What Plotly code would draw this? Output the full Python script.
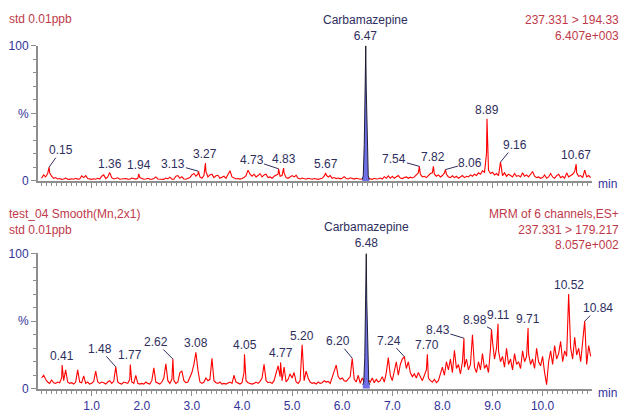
import numpy as np
import plotly.graph_objects as go

W, H = 623, 419

# ---------------------------------------------------------------------------
# Chromatogram data: relative intensity (%) on a 0.04 min scan grid
# ---------------------------------------------------------------------------
scan_times = np.round(np.arange(275) * 0.04, 2)

# 237.331 > 194.33 transition (one row per minute)
top_signal = [
    2.0, 4.5, 3.0, 5.5, 6.0, 3.5, 2.0, 2.5, 1.5, 1.8, 1.2, 1.5, 2.2, 1.4, 1.2, 1.6, 1.3, 2.0, 1.4, 1.5, 3.8, 2.5, 4.0, 1.8, 1.3,
    1.2, 1.6, 1.3, 2.0, 1.4, 3.5, 4.5, 1.8, 3.0, 5.0, 2.5, 1.5, 1.8, 2.4, 1.3, 1.5, 1.2, 1.8, 1.4, 1.3, 2.2, 1.5, 1.4, 2.0, 2.5,
    1.6, 1.3, 1.5, 2.0, 1.4, 1.3, 1.8, 3.0, 1.5, 1.3, 1.6, 1.2, 2.2, 1.5, 2.8, 1.4, 1.3, 3.5, 4.0, 2.0, 3.2, 1.5, 1.3, 1.8, 2.5,
    4.5, 5.5, 3.5, 5.0, 3.0, 2.0, 4.0, 7.0, 3.0, 4.5, 5.0, 2.5, 3.8, 4.2, 2.0, 2.5, 3.5, 2.0, 5.0, 7.6, 3.0, 2.0, 1.5, 1.8, 1.4,
    1.8, 2.5, 4.0, 8.0, 5.0, 3.5, 5.0, 3.0, 4.0, 5.5, 3.0, 4.5, 5.0, 2.5, 3.0, 2.0, 3.5, 4.0, 5.0, 3.5, 4.0, 6.0, 2.5, 2.0, 3.0,
    4.0, 3.0, 4.2, 2.0, 1.5, 2.2, 1.6, 1.3, 2.0, 1.5, 1.3, 1.8, 1.4, 1.2, 1.6, 2.0, 3.5, 4.5, 3.0, 4.0, 2.0, 2.5, 1.8, 2.2, 1.6,
    2.0, 3.2, 1.8, 1.5, 2.4, 1.6, 1.4, 2.0, 1.5, 1.3, 1.6, 2.5, 3.0, 2.0, 1.5, 1.2, 2.0, 1.5, 1.6, 2.2, 1.4, 3.2, 2.0, 3.8, 2.0,
    3.5, 2.0, 3.0, 4.0, 2.2, 1.8, 2.5, 3.0, 2.0, 2.8, 2.2, 3.0, 4.5, 6.0, 5.0, 3.0, 3.5, 2.5, 4.0, 5.5, 6.0, 5.0, 3.5, 4.5, 3.0,
    4.0, 6.0, 5.0, 3.0, 2.5, 3.8, 2.5, 3.5, 2.0, 3.0, 4.0, 2.5, 3.5, 3.0, 4.5, 3.5, 5.0, 4.0, 6.0, 5.0, 7.5, 6.5, 20.0, 8.0, 5.5,
    6.5, 4.5, 5.5, 4.0, 9.0, 4.0, 6.0, 3.5, 5.0, 4.0, 3.0, 5.5, 3.5, 4.0, 3.0, 6.0, 3.5, 4.5, 3.0, 5.0, 7.0, 3.5, 2.5, 3.0, 2.0,
    2.5, 4.5, 2.0, 3.0, 5.5, 3.0, 2.0, 4.0, 5.0, 2.5, 3.5, 2.0, 6.0, 3.0, 4.0, 5.0, 7.0, 6.0, 3.5, 4.0, 2.5, 8.0, 3.0, 4.0, 2.5,
]
top_peak_rt = [0.15, 1.36, 1.94, 3.13, 3.27, 4.73, 4.83, 5.67, 7.54, 7.82, 8.06, 8.89, 9.16, 10.67]
top_peak_h = [10.2, 6.2, 5.2, 7.2, 13.2, 9.0, 9.5, 6.0, 10.8, 10.8, 8.4, 46.0, 14.0, 12.4]

# test_04 smoothed, 237.331 > 179.217 transition
bottom_signal = [
    8.0, 10.0, 7.0, 5.0, 4.0, 6.5, 4.5, 4.0, 5.0, 4.5, 8.0, 6.0, 14.0, 5.0, 4.0, 4.5, 3.5, 5.0, 14.0, 5.0, 4.5, 9.5, 4.0, 5.0, 3.5,
    4.0, 5.5, 13.0, 5.0, 4.0, 5.0, 4.5, 3.5, 5.0, 6.0, 4.0, 5.5, 8.0, 5.0, 4.0, 3.5, 5.0, 4.5, 4.0, 7.0, 5.0, 4.0, 10.0, 4.0, 3.5,
    4.0, 3.5, 5.0, 4.0, 3.5, 6.0, 15.5, 5.0, 4.0, 3.5, 5.0, 8.0, 18.5, 6.0, 4.0, 7.0, 6.0, 4.0, 5.0, 12.0, 13.0, 6.0, 4.5, 5.0, 9.0,
    12.0, 18.0, 20.0, 14.0, 5.0, 4.0, 5.0, 8.0, 6.0, 7.0, 22.5, 6.0, 4.5, 4.0, 5.0, 3.5, 4.0, 3.5, 4.5, 5.0, 4.0, 10.0, 5.0, 4.0, 3.5,
    4.5, 12.0, 6.0, 4.5, 4.0, 3.5, 4.0, 5.0, 4.0, 5.5, 8.0, 18.0, 6.0, 4.5, 5.0, 4.0, 6.0, 11.0, 17.0, 9.0, 6.0, 16.0, 5.0, 7.0, 11.0,
    8.0, 12.0, 5.0, 4.0, 6.0, 14.0, 6.0, 13.0, 8.0, 5.0, 4.0, 4.5, 3.5, 5.0, 4.0, 4.5, 6.0, 5.0, 5.5, 4.0, 8.0, 12.0, 17.5, 9.0, 7.0,
    8.0, 6.0, 5.5, 7.0, 9.0, 12.0, 7.0, 5.0, 10.0, 4.0, 8.0, 5.0, 4.0, 6.5, 5.0, 8.0, 4.5, 7.0, 5.0, 6.0, 9.0, 5.0, 12.0, 23.0, 10.0,
    6.0, 14.0, 20.0, 10.0, 18.0, 22.0, 16.0, 15.0, 20.0, 12.0, 9.0, 11.0, 8.0, 12.0, 9.0, 6.0, 10.0, 14.0, 8.0, 6.0, 5.0, 7.0, 4.5, 6.0, 12.0,
    16.0, 10.0, 20.0, 14.0, 22.0, 12.0, 28.5, 15.0, 18.0, 11.0, 20.0, 16.0, 22.0, 14.0, 18.0, 40.0, 16.0, 12.0, 20.0, 14.0, 26.0, 15.0, 18.0, 12.0, 30.0,
    35.0, 22.0, 30.0, 28.0, 20.0, 24.0, 16.0, 30.0, 18.0, 22.0, 14.0, 26.0, 18.0, 20.0, 15.0, 28.0, 20.0, 24.0, 26.0, 18.0, 22.0, 15.0, 30.0, 20.0, 17.0,
    24.0, 12.0, 3.0, 20.0, 28.0, 18.0, 32.0, 22.0, 26.0, 35.0, 20.0, 28.0, 24.0, 30.0, 30.0, 22.0, 38.0, 25.0, 30.0, 20.0, 33.0, 28.0, 18.0, 32.0, 24.0,
]
bottom_peak_rt = [0.41, 1.48, 1.77, 2.62, 3.08, 4.05, 4.77, 5.20, 6.20, 7.24, 7.70, 8.43, 8.98, 9.11, 9.71, 10.52, 10.84]
bottom_peak_h = [17.5, 16.2, 18.0, 22.0, 27.0, 25.5, 19.5, 32.6, 22.6, 23.8, 25.5, 37.4, 44.0, 48.0, 45.0, 70.0, 50.0]

# Integrated Carbamazepine peak in each channel
cbz_top_rt = [6.40, 6.42, 6.44, 6.46, 6.47, 6.48, 6.50, 6.52, 6.54]
cbz_top_h = [1.0, 4.0, 27.0, 70.0, 100.0, 68.0, 26.0, 4.0, 1.0]
cbz_bottom_rt = [6.41, 6.43, 6.45, 6.47, 6.48, 6.49, 6.51, 6.53, 6.55]
cbz_bottom_h = [3.0, 5.0, 23.0, 68.0, 100.0, 66.0, 22.0, 5.0, 3.0]

x_tick_vals = [1, 2, 3, 4, 5, 6, 7, 8, 9, 10]
y_tick_vals = [0, 50, 100]
y_tick_text = ["0", "%", "100"]

# label displacement (pixels) for peak labels drawn with a leader line
top_leaders = {0.15: (12, -17), 3.13: (-25, -7), 4.73: (-27, -9), 7.54: (-25, -7),
               8.06: (25, -7), 9.16: (14, -17)}
bottom_leaders = {1.48: (-16, -18), 2.62: (-17, -17), 6.20: (-14, -17), 7.24: (-15, -16),
                  8.43: (-26, -8), 8.98: (-17, -9), 10.84: (13, -13)}

FONT = "Liberation Sans, Arial, sans-serif"
RED_TXT = "#c0394a"
NAVY = "#2e2e5e"
TICK_BLUE = "#333399"
AXIS_GREY = "#8e8e8e"
TRACE_RED = "#ff0000"
PEAK_BLUE = "#7070e6"


def merge(times, values, rts, heights):
    pts = {round(float(t), 2): v for t, v in zip(times, values)}
    for rt, h in zip(rts, heights):
        pts[round(rt, 2)] = h
    xs = sorted(pts)
    return xs, [pts[x] for x in xs]


def px_x(x):
    return x / W


def px_y(y):
    return 1 - y / H


fig = go.Figure()

tx, ty = merge(scan_times, top_signal, top_peak_rt, top_peak_h)
bx, by = merge(scan_times, bottom_signal, bottom_peak_rt, bottom_peak_h)

fig.add_trace(go.Scatter(x=tx, y=ty, mode="lines", line=dict(color=TRACE_RED, width=1.1),
                         xaxis="x", yaxis="y", hoverinfo="skip"))
fig.add_trace(go.Scatter(x=cbz_top_rt, y=cbz_top_h, mode="lines", fill="tozeroy",
                         fillcolor=PEAK_BLUE, line=dict(color="#111122", width=0.9),
                         xaxis="x", yaxis="y", hoverinfo="skip"))
fig.add_trace(go.Scatter(x=bx, y=by, mode="lines", line=dict(color=TRACE_RED, width=1.1),
                         xaxis="x2", yaxis="y2", hoverinfo="skip"))
fig.add_trace(go.Scatter(x=cbz_bottom_rt, y=cbz_bottom_h, mode="lines", fill="tozeroy",
                         fillcolor=PEAK_BLUE, line=dict(color="#111122", width=0.9),
                         xaxis="x2", yaxis="y2", hoverinfo="skip"))

x_dom = [px_x(38), px_x(592)]
x_rng = [-0.072, 10.986]

common_x = dict(domain=x_dom, range=x_rng, showline=True, linecolor=AXIS_GREY, linewidth=2,
                ticks="outside", ticklen=5, tickcolor=AXIS_GREY, tickwidth=1,
                tickvals=x_tick_vals, showgrid=False, zeroline=False,
                minor=dict(dtick=0.1, tick0=0, ticks="outside", ticklen=3,
                           tickcolor=AXIS_GREY, tickwidth=1, showgrid=False),
                tickfont=dict(family=FONT, size=12, color=TICK_BLUE))
common_y = dict(range=[0, 100], showline=True, linecolor=AXIS_GREY, linewidth=2,
                ticks="outside", ticklen=5, tickcolor=AXIS_GREY, tickwidth=1,
                tickvals=y_tick_vals, ticktext=y_tick_text, showgrid=False, zeroline=False,
                minor=dict(dtick=10, ticks="outside", ticklen=3, tickcolor=AXIS_GREY,
                           tickwidth=1, showgrid=False),
                tickfont=dict(family=FONT, size=12, color=TICK_BLUE))

fig.update_layout(
    width=W, height=H,
    margin=dict(l=0, r=0, t=0, b=0),
    paper_bgcolor="white", plot_bgcolor="white",
    showlegend=False,
    font=dict(family=FONT, size=12, color=NAVY),
    xaxis=dict(common_x, anchor="y", showticklabels=False),
    yaxis=dict(common_y, anchor="x", domain=[px_y(180), px_y(40)]),
    xaxis2=dict(common_x, anchor="y2", tickformat=".1f"),
    yaxis2=dict(common_y, anchor="x2", domain=[px_y(395), px_y(255)]),
)

ann = []


def peak_labels(rts, heights, leaders, xr, yr):
    for rt, h in zip(rts, heights):
        txt = f"{rt:.2f}"
        if rt in leaders:
            dx, dy = leaders[rt]
            ann.append(dict(x=rt, y=h, xref=xr, yref=yr, text=txt, showarrow=True,
                            arrowhead=0, arrowwidth=1, arrowcolor=NAVY, standoff=0,
                            ax=dx, ay=dy, font=dict(family=FONT, size=12, color=NAVY),
                            borderpad=0))
        else:
            ann.append(dict(x=rt, y=h, xref=xr, yref=yr, text=txt, showarrow=False,
                            yanchor="bottom", yshift=0,
                            font=dict(family=FONT, size=12, color=NAVY)))


peak_labels(top_peak_rt, top_peak_h, top_leaders, "x", "y")
peak_labels(bottom_peak_rt, bottom_peak_h, bottom_leaders, "x2", "y2")

# compound names above the integrated peaks
for rt, h, xr, yr in [(cbz_top_rt[4], cbz_top_h[4], "x", "y"),
                      (cbz_bottom_rt[4], cbz_bottom_h[4], "x2", "y2")]:
    ann.append(dict(x=rt, y=h, xref=xr, yref=yr, text=f"Carbamazepine<br>{rt:.2f}",
                    showarrow=False, yanchor="bottom", yshift=1,
                    font=dict(family=FONT, size=12, color=NAVY)))

# channel header texts
ann += [
    dict(x=px_x(7), y=px_y(12), xref="paper", yref="paper", text="std 0.01ppb",
         xanchor="left", yanchor="middle", showarrow=False,
         font=dict(family=FONT, size=12, color=RED_TXT)),
    dict(x=px_x(621), y=px_y(4), xref="paper", yref="paper",
         text="237.331 &gt; 194.33<br>6.407e+003", align="right",
         xanchor="right", yanchor="top", showarrow=False,
         font=dict(family=FONT, size=12, color=RED_TXT)),
    dict(x=px_x(7), y=px_y(205), xref="paper", yref="paper",
         text="test_04 Smooth(Mn,2x1)<br>std 0.01ppb", align="left",
         xanchor="left", yanchor="top", showarrow=False,
         font=dict(family=FONT, size=12, color=RED_TXT)),
    dict(x=px_x(621), y=px_y(205), xref="paper", yref="paper",
         text="MRM of 6 channels,ES+<br>237.331 &gt; 179.217<br>8.057e+002", align="right",
         xanchor="right", yanchor="top", showarrow=False,
         font=dict(family=FONT, size=12, color=RED_TXT)),
    dict(x=px_x(596), y=px_y(183), xref="paper", yref="paper", text="min",
         xanchor="left", yanchor="middle", showarrow=False,
         font=dict(family=FONT, size=12, color=TICK_BLUE)),
    dict(x=px_x(596), y=px_y(399), xref="paper", yref="paper", text="min",
         xanchor="left", yanchor="middle", showarrow=False,
         font=dict(family=FONT, size=12, color=TICK_BLUE)),
]

fig.update_layout(annotations=ann)

fig.write_html("out.html")
